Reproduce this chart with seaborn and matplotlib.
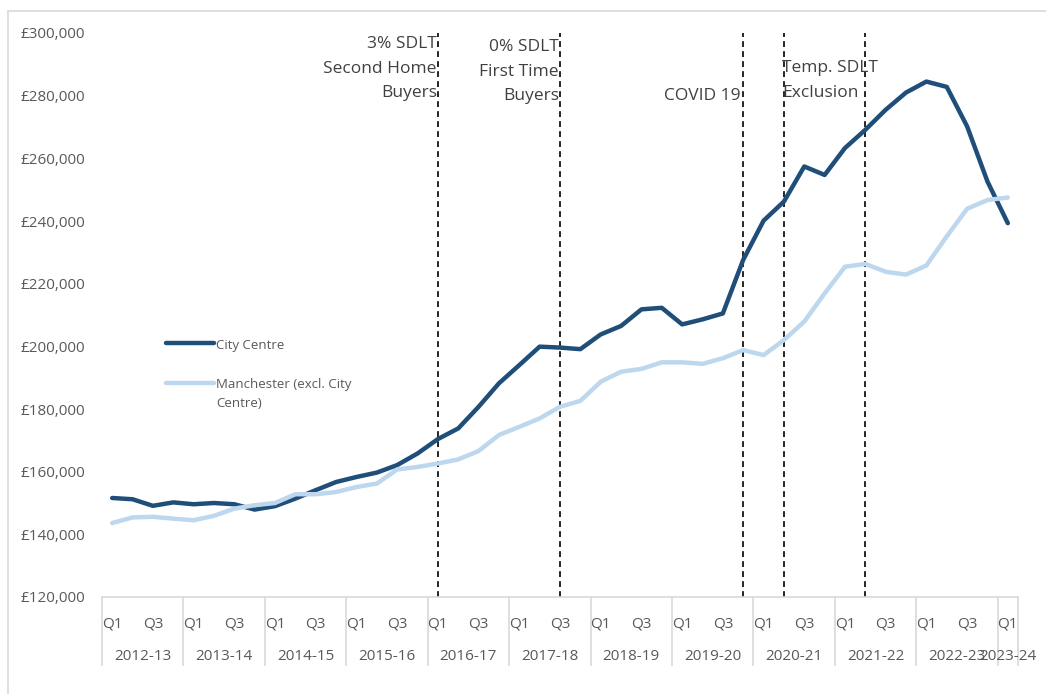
import numpy as np
import pandas as pd
import matplotlib.pyplot as plt
import matplotlib.transforms as mtransforms
import seaborn as sns

# Average house price by quarter, 2012-13 Q1 to 2023-24 Q1
years = ["2012-13", "2013-14", "2014-15", "2015-16", "2016-17", "2017-18",
         "2018-19", "2019-20", "2020-21", "2021-22", "2022-23", "2023-24"]
quarters = ["Q1", "Q2", "Q3", "Q4"]

city_centre = [151600, 151200, 149100, 150200, 149600, 150000, 149600, 147900,
               149000, 151400, 154100, 156700, 158300, 159700, 162100, 165800,
               170400, 173800, 180700, 188200, 194000, 199900, 199600, 199100,
               203800, 206500, 211800, 212300, 207000, 208600, 210500, 227600,
               240100, 246200, 257400, 254700, 263300, 269100, 275500, 281000,
               284500, 282800, 270200, 252600, 239300]

manchester = [143600, 145400, 145600, 145000, 144500, 145900, 148200, 149300,
              150000, 152800, 152800, 153500, 155100, 156200, 160700, 161500,
              162600, 163900, 166600, 171700, 174300, 177000, 180700, 182600,
              188700, 191900, 192800, 194900, 194900, 194400, 196200, 198800,
              197200, 202000, 207900, 216900, 225400, 226300, 223800, 222900,
              225800, 235100, 243900, 246700, 247500]

series_names = ["City Centre", "Manchester (excl. City\nCentre)"]

# policy events: quarter index and label
event_idx = [16, 22, 31, 33, 37]
event_labels = ["3% SDLT\nSecond Home\nBuyers", "0% SDLT\nFirst Time\nBuyers",
                "COVID 19", "Temp. SDLT\nExclusion", None]

n = len(city_centre)
idx = np.arange(n)
df = pd.DataFrame({
    "idx": np.concatenate([idx, idx]),
    "price": city_centre + manchester,
    "series": [series_names[0]] * n + [series_names[1]] * n,
})

sns.set_style("white")
plt.rcParams["font.family"] = ["Open Sans", "DejaVu Sans"]

grey = "#595959"
fig = plt.figure(figsize=(10.46, 6.94), dpi=100)
ax = fig.add_axes([102 / 1046, 1 - 597 / 694, 916 / 1046, 564 / 694])

sns.lineplot(data=df, x="idx", y="price", hue="series",
             palette=["#1F4E79", "#BDD7EE"], linewidth=3.2, ax=ax)

ax.set_xlim(-0.5, n - 0.5)
ax.set_ylim(120000, 300000)
ax.set_xlabel("")
ax.set_ylabel("")

# y axis
ax.set_yticks(np.arange(120000, 300001, 20000))
ax.set_yticklabels([f"£{v:,}" for v in range(120000, 300001, 20000)])
ax.tick_params(axis="y", length=0, pad=12, labelsize=11, labelcolor=grey)

for s in ["top", "right", "left"]:
    ax.spines[s].set_visible(False)
ax.spines["bottom"].set_color("#D9D9D9")
ax.spines["bottom"].set_linewidth(1.2)

# x axis: year separators as long major ticks, Q1/Q3 as minor tick labels
bounds = list(np.arange(-0.5, n, 4)) + [n - 0.5]
ax.set_xticks(bounds)
ax.set_xticklabels([""] * len(bounds))
ax.tick_params(axis="x", which="major", bottom=True, length=50, width=1.2,
               color="#D9D9D9", direction="out")
q_pos = idx[::2]
ax.set_xticks(q_pos, minor=True)
ax.set_xticklabels([quarters[i % 4] for i in q_pos], minor=True)
ax.tick_params(axis="x", which="minor", bottom=True, length=0, pad=14,
               labelsize=11, labelcolor=grey)

trans = mtransforms.blended_transform_factory(ax.transData, ax.transAxes)
for k, yr in enumerate(years):
    first = 4 * k
    last = min(4 * k + 3, n - 1)
    ax.text((first + last) / 2, -0.105, yr, transform=trans, ha="center",
            va="center", fontsize=11, color=grey)

# event markers
for x in event_idx:
    ax.axvline(x, color="black", lw=1.2, ls=(0, (3.5, 2.5)), zorder=1)

txt = dict(fontsize=12.5, color="#404040", linespacing=1.7, va="top")
ax.text(event_idx[0] - 0.05, 299000, event_labels[0], ha="right", **txt)
ax.text(event_idx[1] - 0.05, 298000, event_labels[1], ha="right", **txt)
ax.text(event_idx[2] - 0.15, 282300, event_labels[2], ha="right", **txt)
ax.text(event_idx[3] - 0.1, 291300, event_labels[3], ha="left", **txt)

# legend
handles, labels = ax.get_legend_handles_labels()
leg = ax.legend(handles, labels, loc="upper left", bbox_to_anchor=(0.063, 0.47),
                frameon=False, handlelength=3.6, handletextpad=0.15,
                labelspacing=2.0, fontsize=9.5, labelcolor=grey, borderpad=0)
for t in leg.get_texts():
    t.set_linespacing(1.65)
for col in leg._legend_handle_box.get_children():
    for row in col.get_children():
        row.align = "top"

# outer chart border
fig.add_artist(plt.Line2D([8 / 1046, 1], [1 - 11 / 694, 1 - 11 / 694],
                          color="#D9D9D9", lw=1.2, transform=fig.transFigure))
fig.add_artist(plt.Line2D([8 / 1046, 8 / 1046], [0, 1 - 11 / 694],
                          color="#D9D9D9", lw=1.2, transform=fig.transFigure))

fig.savefig("out.png", dpi=100)
